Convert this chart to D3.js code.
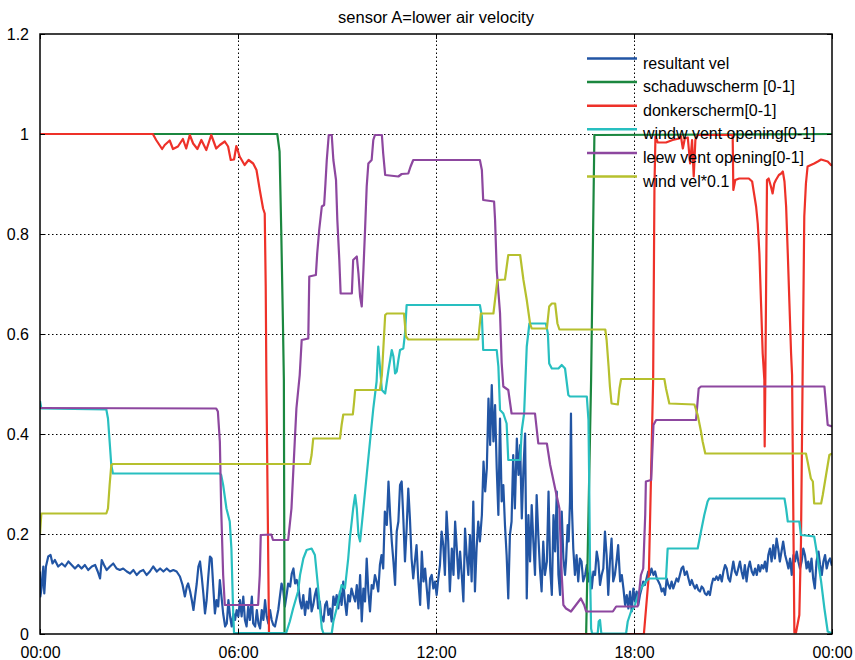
<!DOCTYPE html>
<html>
<head>
<meta charset="utf-8">
<script src="https://cdn.jsdelivr.net/npm/d3@7"></script>
<style>
  body { margin: 0; background: #fff; }
  svg text { font-family: "Liberation Sans", Arial, Helvetica, sans-serif; }
</style>
</head>
<body>
<div id="chart"></div>
<script>
// time in hours since 00:00, value 0..1.2
const resultantVel = [
  [0.00,0.125],[0.01,0.075],[0.05,0.093],[0.10,0.135],[0.13,0.081],[0.18,0.135],[0.25,0.155],[0.32,0.158],
  [0.38,0.141],[0.45,0.148],[0.55,0.135],[0.66,0.141],[0.76,0.135],[0.86,0.145],[0.96,0.138],[1.06,0.131],
  [1.16,0.138],[1.26,0.131],[1.36,0.138],[1.46,0.128],[1.57,0.135],[1.67,0.138],[1.75,0.125],[1.82,0.111],
  [1.87,0.148],[1.94,0.138],[2.02,0.128],[2.12,0.135],[2.22,0.141],[2.32,0.131],[2.42,0.128],[2.52,0.131],
  [2.63,0.125],[2.73,0.121],[2.83,0.128],[2.93,0.118],[3.03,0.125],[3.13,0.128],[3.23,0.118],[3.33,0.125],
  [3.43,0.135],[3.54,0.125],[3.64,0.131],[3.74,0.125],[3.84,0.131],[3.94,0.125],[4.04,0.128],[4.14,0.125],
  [4.24,0.115],[4.32,0.098],[4.39,0.075],[4.45,0.095],[4.49,0.101],[4.55,0.085],[4.60,0.068],[4.65,0.048],
  [4.70,0.075],[4.75,0.101],[4.80,0.135],[4.85,0.145],[4.90,0.115],[4.95,0.081],[5.00,0.041],[5.05,0.068],
  [5.10,0.115],[5.15,0.155],[5.20,0.151],[5.25,0.095],[5.30,0.041],[5.35,0.068],[5.40,0.055],[5.45,0.108],
  [5.51,0.068],[5.55,0.041],[5.61,0.015],[5.66,0.021],[5.71,0.068],[5.76,0.035],[5.81,0.015],[5.86,0.041],
  [5.91,0.028],[5.96,0.048],[6.01,0.035],[6.06,0.068],[6.11,0.035],[6.16,0.075],[6.21,0.028],[6.26,0.015],
  [6.31,0.055],[6.36,0.028],[6.42,0.075],[6.46,0.021],[6.52,0.015],[6.57,0.048],[6.62,0.021],[6.67,0.011],
  [6.72,0.048],[6.77,0.028],[6.82,0.068],[6.87,0.035],[6.92,0.021],[6.97,0.048],[7.02,0.028],[7.07,0.018],
  [7.12,0.015],[7.17,0.031],[7.22,0.048],[7.27,0.075],[7.32,0.101],[7.37,0.088],[7.42,0.055],[7.48,0.081],
  [7.52,0.101],[7.58,0.095],[7.63,0.121],[7.68,0.131],[7.73,0.101],[7.78,0.108],[7.83,0.095],
  [7.88,0.065],[7.93,0.051],[7.98,0.078],[8.03,0.038],[8.08,0.065],[8.13,0.051],[8.18,0.091],[8.23,0.045],
  [8.28,0.058],[8.33,0.078],[8.38,0.091],[8.43,0.051],[8.48,0.065],[8.52,0.038],[8.59,0.025],[8.64,0.058],
  [8.69,0.065],[8.74,0.038],[8.79,0.051],[8.84,0.025],[8.89,0.075],[8.94,0.058],[8.99,0.078],[9.04,0.051],
  [9.09,0.085],[9.14,0.058],[9.19,0.105],[9.24,0.065],[9.29,0.038],[9.34,0.078],[9.39,0.065],[9.44,0.091],
  [9.49,0.078],[9.55,0.065],[9.60,0.098],[9.65,0.051],[9.70,0.118],[9.75,0.025],[9.80,0.091],[9.85,0.065],
  [9.90,0.151],[9.95,0.085],[10.00,0.045],[10.05,0.098],[10.10,0.091],[10.15,0.118],[10.20,0.105],[10.25,0.085],
  [10.30,0.138],[10.35,0.158],[10.40,0.131],[10.45,0.245],[10.51,0.218],[10.56,0.305],[10.61,0.238],[10.66,0.185],
  [10.71,0.145],[10.76,0.098],[10.81,0.205],[10.86,0.225],[10.91,0.298],[10.96,0.305],[11.01,0.231],[11.06,0.145],
  [11.11,0.211],[11.16,0.291],[11.21,0.231],[11.26,0.151],[11.31,0.111],[11.36,0.145],[11.41,0.178],[11.46,0.111],
  [11.52,0.058],[11.57,0.165],[11.62,0.105],[11.67,0.131],[11.72,0.091],[11.77,0.051],[11.82,0.111],[11.87,0.118],
  [11.92,0.091],[11.97,0.105],[12.02,0.078],[12.07,0.111],[12.12,0.138],[12.17,0.205],[12.22,0.178],[12.27,0.118],
  [12.32,0.245],[12.37,0.185],[12.42,0.085],[12.48,0.171],[12.53,0.118],[12.58,0.225],[12.63,0.171],[12.68,0.111],
  [12.73,0.165],[12.78,0.118],[12.83,0.065],[12.88,0.211],[12.93,0.158],[12.98,0.118],[13.03,0.198],[13.08,0.105],
  [13.13,0.265],[13.18,0.085],[13.23,0.171],[13.28,0.225],[13.33,0.185],[13.39,0.238],[13.44,0.345],[13.49,0.285],
  [13.54,0.331],[13.59,0.471],[13.64,0.378],[13.69,0.498],[13.74,0.385],[13.79,0.458],[13.84,0.331],[13.89,0.238],
  [13.94,0.431],[13.99,0.265],[14.04,0.298],[14.09,0.218],[14.14,0.158],[14.19,0.071],[14.24,0.198],[14.29,0.225],
  [14.34,0.358],[14.39,0.251],[14.45,0.391],[14.50,0.318],[14.55,0.378],[14.60,0.231],[14.65,0.331],[14.70,0.401],
  [14.75,0.071],[14.80,0.238],[14.85,0.145],[14.90,0.258],[14.95,0.185],[15.00,0.118],[15.05,0.278],[15.10,0.198],
  [15.15,0.131],[15.20,0.085],[15.25,0.185],[15.30,0.118],[15.36,0.145],[15.41,0.285],[15.46,0.131],[15.51,0.078],
  [15.56,0.238],[15.61,0.165],[15.66,0.285],[15.71,0.118],[15.76,0.078],[15.81,0.245],[15.86,0.151],[15.91,0.118],
  [15.94,0.145],[15.99,0.218],[16.02,0.185],[16.06,0.265],[16.09,0.441],[16.12,0.251],[16.16,0.171],[16.21,0.118],
  [16.26,0.158],[16.31,0.105],[16.36,0.151],[16.41,0.145],[16.46,0.105],[16.52,0.118],[16.57,0.138],[16.62,0.105],
  [16.67,0.125],[16.72,0.091],[16.77,0.125],[16.82,0.118],[16.87,0.165],[16.92,0.145],[16.97,0.098],[17.02,0.118],
  [17.07,0.131],[17.12,0.205],[17.17,0.158],[17.22,0.078],[17.27,0.145],[17.32,0.191],[17.37,0.105],[17.42,0.118],
  [17.47,0.145],[17.52,0.178],[17.58,0.105],[17.63,0.118],[17.68,0.091],[17.73,0.058],[17.78,0.078],[17.83,0.051],
  [17.88,0.085],[17.93,0.045],[17.98,0.091],[18.03,0.065],[18.08,0.085],[18.13,0.058],[18.18,0.078],[18.23,0.091],
  [18.28,0.105],[18.33,0.098],[18.38,0.111],[18.43,0.125],[18.48,0.118],[18.53,0.131],[18.59,0.118],[18.64,0.125],
  [18.69,0.111],[18.74,0.105],[18.79,0.098],[18.84,0.085],[18.89,0.091],[18.94,0.078],[18.99,0.111],[19.04,0.098],
  [19.09,0.091],[19.14,0.105],[19.19,0.091],[19.24,0.101],[19.29,0.111],[19.34,0.105],[19.39,0.118],[19.44,0.131],
  [19.49,0.135],[19.54,0.118],[19.60,0.125],[19.65,0.111],[19.70,0.098],[19.75,0.108],[19.80,0.098],[19.85,0.091],
  [19.90,0.098],[19.95,0.088],[20.00,0.085],[20.05,0.095],[20.10,0.091],[20.15,0.081],[20.20,0.078],[20.25,0.085],
  [20.30,0.078],[20.35,0.098],[20.40,0.111],[20.45,0.108],[20.50,0.115],[20.55,0.108],[20.61,0.118],[20.66,0.105],
  [20.71,0.125],[20.76,0.138],[20.81,0.131],[20.86,0.111],[20.91,0.105],[20.96,0.125],[21.01,0.145],[21.06,0.125],
  [21.11,0.118],[21.16,0.131],[21.21,0.145],[21.26,0.125],[21.31,0.111],[21.36,0.138],[21.41,0.105],[21.46,0.131],
  [21.51,0.145],[21.57,0.125],[21.62,0.118],[21.67,0.131],[21.72,0.118],[21.77,0.138],[21.82,0.125],[21.87,0.138],
  [21.92,0.131],[21.97,0.145],[22.02,0.125],[22.07,0.158],[22.12,0.171],[22.17,0.145],[22.22,0.178],[22.27,0.151],
  [22.32,0.191],[22.37,0.171],[22.42,0.145],[22.47,0.165],[22.52,0.185],[22.58,0.158],[22.63,0.145],[22.68,0.131],
  [22.73,0.151],[22.78,0.118],[22.83,0.158],[22.88,0.145],[22.93,0.165],[22.98,0.145],[23.03,0.131],[23.08,0.145],
  [23.13,0.171],[23.18,0.158],[23.23,0.131],[23.28,0.145],[23.33,0.125],[23.38,0.151],[23.43,0.111],[23.48,0.091],
  [23.53,0.145],[23.59,0.165],[23.64,0.138],[23.69,0.118],[23.74,0.145],[23.79,0.158],[23.84,0.131],[23.89,0.145],
  [23.94,0.151],[23.99,0.138],[24.00,0.140]
];

const schaduwscherm = [
  [0,1],[7.19,1],[7.26,0.965],[7.31,0.808],[7.36,0.628],[7.39,0.508],[7.41,0],
  [16.55,0],[16.70,0.508],[16.80,0.998],[24,1]
];

const donkerscherm = [
  [0,1],[3.42,1],[3.52,0.988],[3.70,0.97],[3.78,0.978],[3.93,0.987],[4.03,0.97],[4.18,0.975],[4.33,0.99],
  [4.43,0.971],[4.54,0.998],[4.64,0.981],[4.77,0.97],[4.89,0.988],[5.04,0.968],[5.19,0.998],[5.34,0.971],
  [5.45,0.978],[5.60,0.985],[5.70,0.975],[5.78,0.948],[5.88,0.949],[5.95,0.976],[6.05,0.955],[6.20,0.938],
  [6.32,0.948],[6.46,0.941],[6.56,0.928],[6.66,0.888],[6.76,0.851],[6.81,0.841],[6.84,0.695],[6.86,0.508],
  [6.94,0],[18.30,0],[18.45,0.118],[18.58,0.508],[18.62,0.895],[18.65,0.995],[18.72,0.983],[18.97,0.983],
  [19.17,0.988],[19.37,0.991],[19.42,0.996],[19.48,0.971],[19.54,0.991],[19.63,0.993],[19.70,0.941],
  [19.76,0.988],[19.81,0.915],[19.86,0.988],[19.93,0.998],[20.99,0.998],[21.01,0.888],[21.07,0.908],
  [21.19,0.911],[21.48,0.911],[21.58,0.905],[21.70,0.855],[21.75,0.821],[21.80,0.761],[21.85,0.661],
  [21.90,0.561],[21.95,0.508],[21.96,0.375],[21.98,0.508],[22.03,0.908],[22.08,0.911],[22.15,0.895],
  [22.20,0.881],[22.25,0.901],[22.30,0.908],[22.39,0.918],[22.46,0.921],[22.51,0.925],[22.56,0.905],
  [22.61,0.855],[22.66,0.761],[22.71,0.661],[22.76,0.561],[22.79,0.518],[22.86,0.003],[22.91,0.003],
  [23.01,0.038],[23.06,0.185],[23.11,0.518],[23.16,0.835],[23.21,0.901],[23.26,0.935],[23.36,0.938],
  [23.46,0.941],[23.57,0.945],[23.67,0.949],[23.77,0.947],[23.87,0.945],[23.97,0.938],[24,0.937]
];

const windwVent = [
  [0,0.466],[0.04,0.451],[2.01,0.449],[2.06,0.431],[2.11,0.385],[2.16,0.338],[2.21,0.321],[5.45,0.321],
  [5.49,0.318],[5.55,0.298],[5.65,0.251],[5.75,0.225],[5.80,0.171],[5.85,0.051],[5.88,0.002],[7.46,0.002],
  [7.57,0.025],[7.67,0.051],[7.82,0.085],[7.88,0.118],[7.98,0.151],[8.08,0.168],[8.23,0.171],[8.33,0.158],
  [8.43,0.091],[8.54,0.011],[8.59,0.001],[8.84,0.001],[8.89,0.025],[8.99,0.051],[9.14,0.098],[9.24,0.091],
  [9.34,0.151],[9.39,0.191],[9.49,0.251],[9.55,0.278],[9.60,0.251],[9.65,0.198],[9.70,0.185],[9.80,0.251],
  [9.90,0.318],[10.00,0.385],[10.10,0.451],[10.20,0.505],[10.25,0.575],[10.36,0.488],[10.46,0.481],
  [10.56,0.528],[10.66,0.568],[10.71,0.555],[10.76,0.521],[10.81,0.525],[10.86,0.548],[10.91,0.568],
  [11.01,0.571],[11.06,0.601],[11.11,0.658],[13.33,0.658],[13.39,0.635],[13.43,0.568],[13.84,0.568],
  [13.89,0.535],[13.94,0.448],[14.04,0.441],[14.14,0.421],[14.19,0.348],[14.55,0.348],[14.60,0.408],
  [14.67,0.441],[14.75,0.575],[14.83,0.621],[15.33,0.621],[15.39,0.601],[15.43,0.541],[15.51,0.531],
  [15.71,0.531],[15.81,0.538],[15.91,0.531],[16.01,0.478],[16.06,0.475],[16.57,0.475],[16.62,0.428],
  [16.64,0.318],[16.67,0.118],[16.70,0.011],[16.73,0.001],[16.90,0.001],[16.93,0.025],[16.97,0.028],
  [17.01,0.001],[17.76,0.001],[17.81,0.025],[17.91,0.045],[18.01,0.055],[18.11,0.075],[18.21,0.091],
  [18.36,0.105],[18.46,0.111],[18.97,0.111],[19.02,0.171],[19.93,0.171],[20.03,0.205],[20.13,0.238],
  [20.23,0.265],[20.28,0.271],[22.56,0.271],[22.61,0.251],[22.66,0.225],[23.01,0.225],[23.06,0.198],
  [23.46,0.195],[23.52,0.171],[23.67,0.105],[23.77,0.051],[23.87,0.005],[24,0.001]
];

const leewVent = [
  [0,0.452],[5.34,0.451],[5.39,0.445],[5.45,0.385],[5.49,0.252],[5.55,0.118],[5.60,0.058],[6.61,0.058],
  [6.66,0.118],[6.69,0.198],[7.01,0.199],[7.06,0.188],[7.52,0.188],[7.62,0.251],[7.72,0.385],[7.77,0.451],
  [7.87,0.518],[7.93,0.588],[8.13,0.591],[8.16,0.715],[8.36,0.718],[8.40,0.761],[8.46,0.808],[8.54,0.855],
  [8.61,0.858],[8.65,0.901],[8.69,0.948],[8.75,0.998],[8.84,0.998],[8.89,0.948],[8.97,0.908],[9.01,0.828],
  [9.07,0.748],[9.11,0.681],[9.45,0.681],[9.49,0.748],[9.60,0.755],[9.65,0.721],[9.70,0.675],[9.75,0.655],
  [9.80,0.728],[9.85,0.808],[9.90,0.895],[9.95,0.941],[10.05,0.948],[10.10,0.988],[10.15,0.998],
  [10.36,0.998],[10.40,0.961],[10.46,0.918],[10.86,0.915],[10.96,0.920],[11.16,0.921],[11.23,0.935],
  [11.31,0.948],[13.33,0.948],[13.39,0.928],[13.43,0.868],[13.76,0.865],[13.79,0.828],[13.84,0.728],
  [13.89,0.685],[13.94,0.642],[13.99,0.542],[14.04,0.495],[14.19,0.488],[14.29,0.441],[15.00,0.441],
  [15.10,0.381],[15.36,0.381],[15.46,0.338],[15.61,0.291],[15.74,0.251],[15.81,0.118],[15.86,0.058],
  [15.94,0.051],[16.09,0.045],[16.24,0.058],[16.39,0.071],[16.49,0.058],[16.55,0.045],[17.36,0.045],
  [17.46,0.055],[18.11,0.055],[18.21,0.118],[18.28,0.131],[18.34,0.238],[18.36,0.305],[18.52,0.308],
  [18.59,0.418],[18.67,0.428],[19.88,0.428],[19.96,0.491],[20.03,0.495],[23.77,0.495],[23.87,0.418],
  [24,0.415]
];

const windVel = [
  [0,0.2],[0.04,0.241],[2.01,0.241],[2.06,0.251],[2.11,0.298],[2.16,0.338],[2.21,0.340],[8.18,0.340],
  [8.23,0.358],[8.28,0.391],[9.09,0.391],[9.14,0.418],[9.19,0.439],[9.48,0.439],[9.52,0.465],[9.55,0.488],
  [10.30,0.488],[10.36,0.518],[10.46,0.638],[10.51,0.641],[11.03,0.641],[11.09,0.595],[11.16,0.589],
  [13.28,0.589],[13.36,0.641],[13.74,0.641],[13.86,0.708],[14.09,0.709],[14.19,0.758],[14.55,0.758],
  [14.65,0.708],[14.75,0.668],[14.85,0.621],[14.90,0.611],[15.36,0.611],[15.43,0.655],[15.51,0.661],
  [15.61,0.661],[15.68,0.621],[15.74,0.609],[17.13,0.609],[17.17,0.588],[17.23,0.535],[17.27,0.495],
  [17.32,0.461],[17.51,0.459],[17.56,0.491],[17.61,0.510],[18.92,0.510],[18.97,0.491],[19.07,0.461],
  [19.83,0.459],[19.93,0.438],[20.03,0.405],[20.08,0.385],[20.16,0.361],[23.21,0.361],[23.26,0.345],
  [23.36,0.311],[23.42,0.305],[23.46,0.261],[23.67,0.261],[23.72,0.278],[23.82,0.318],[23.92,0.358],
  [24,0.361]
];

const seriesNames = ["resultant vel", "schaduwscherm [0-1]", "donkerscherm[0-1]",
  "windw vent opening[0-1]", "leew vent opening[0-1]", "wind vel*0.1"];
const seriesColors = ["#2255a4", "#1b873f", "#ee3129", "#28bfc0", "#8d479f", "#b6c02e"];
const seriesData = [resultantVel, schaduwscherm, donkerscherm, windwVent, leewVent, windVel];

const xTicks = [0, 6, 12, 18, 24];
const xTickLabels = ["00:00", "06:00", "12:00", "18:00", "00:00"];
const yTicks = [0, 0.2, 0.4, 0.6, 0.8, 1, 1.2];
const title = "sensor A=lower air velocity";

const width = 855;
const height = 660;
const margin = {t: 34, b: 26, l: 40, r: 23};

const svg = d3.select("#chart")
    .append("svg")
    .attr("width", width)
    .attr("height", height);

const xScale = d3.scaleLinear()
    .domain([0, 24])
    .range([margin.l, width - margin.r]);
const yScale = d3.scaleLinear()
    .domain([0, 1.2])
    .range([height - margin.b, margin.t]);

const x0 = xScale(0), x1 = xScale(24), y0 = yScale(0), y1 = yScale(1.2);

svg.append("clipPath").attr("id", "plotClip")
  .append("rect")
    .attr("x", x0).attr("y", y1)
    .attr("width", x1 - x0).attr("height", y0 - y1);

// grid
const grid = svg.append("g")
    .attr("stroke", "#000")
    .attr("stroke-width", 1)
    .attr("stroke-dasharray", "1.5,2.5");
grid.selectAll(".gx")
  .data(xTicks.slice(1, -1))
  .join("line")
    .attr("x1", d => Math.round(xScale(d)) + 0.5).attr("x2", d => Math.round(xScale(d)) + 0.5)
    .attr("y1", y0).attr("y2", y1);
grid.selectAll(".gy")
  .data(yTicks.slice(1, -1))
  .join("line")
    .attr("y1", d => Math.round(yScale(d)) + 0.5).attr("y2", d => Math.round(yScale(d)) + 0.5)
    .attr("x1", x0).attr("x2", x1);

// lines
const line = d3.line()
    .x(d => xScale(d[0]))
    .y(d => yScale(d[1]));

svg.append("g")
    .attr("clip-path", "url(#plotClip)")
  .selectAll("path")
  .data(seriesData)
  .join("path")
    .attr("d", line)
    .attr("fill", "none")
    .attr("stroke", (d, i) => seriesColors[i])
    .attr("stroke-width", 2.2)
    .attr("stroke-linejoin", "round");

// axes (ticks inside, box)
const tickLen = 5;
svg.append("g")
    .attr("transform", `translate(0,${y0})`)
    .call(d3.axisBottom(xScale).tickValues(xTicks).tickSize(-tickLen).tickFormat((d, i) => xTickLabels[i]).tickPadding(13))
    .call(g => g.select(".domain").remove());
svg.append("g")
    .attr("transform", `translate(0,${y1})`)
    .call(d3.axisTop(xScale).tickValues(xTicks).tickSize(-tickLen).tickFormat(""))
    .call(g => g.select(".domain").remove());
svg.append("g")
    .attr("transform", `translate(${x0},0)`)
    .call(d3.axisLeft(yScale).tickValues(yTicks).tickSize(-tickLen).tickFormat(d3.format("~g")).tickPadding(11))
    .call(g => g.select(".domain").remove());
svg.append("g")
    .attr("transform", `translate(${x1},0)`)
    .call(d3.axisRight(yScale).tickValues(yTicks).tickSize(-tickLen).tickFormat(""))
    .call(g => g.select(".domain").remove());

svg.selectAll(".tick line").attr("stroke", "#000").attr("stroke-width", 1);
svg.selectAll(".tick text").attr("font-size", 16).attr("fill", "#000");

svg.append("rect")
    .attr("x", x0).attr("y", y1)
    .attr("width", x1 - x0).attr("height", y0 - y1)
    .attr("fill", "none")
    .attr("stroke", "#000")
    .attr("stroke-width", 1.5);

// title
svg.append("text")
    .attr("x", (x0 + x1) / 2)
    .attr("y", 23)
    .attr("text-anchor", "middle")
    .attr("font-size", 16.5)
    .attr("fill", "#000")
    .text(title);

// legend
const legend = svg.append("g").attr("transform", "translate(587,58.5)");
const rows = legend.selectAll("g")
  .data(seriesNames)
  .join("g")
    .attr("transform", (d, i) => `translate(0,${i * 23.6})`);
rows.append("line")
    .attr("x1", 0).attr("x2", 50)
    .attr("stroke", (d, i) => seriesColors[i])
    .attr("stroke-width", 2.5);
rows.append("text")
    .attr("x", 56)
    .attr("y", 10)
    .attr("font-size", 16)
    .attr("fill", "#000")
    .text(d => d);
</script>
</body>
</html>
